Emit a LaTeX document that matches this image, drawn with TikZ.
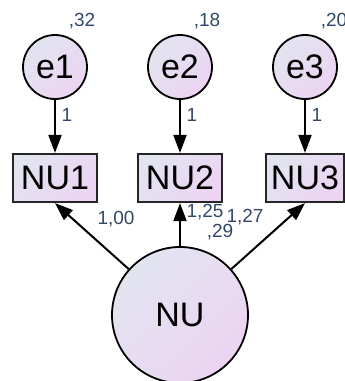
\documentclass[tikz,border=0pt]{standalone}
\usepackage{fontspec}
\setmainfont{Liberation Sans}
\usetikzlibrary{arrows.meta}
\definecolor{fillA}{RGB}{226,228,240}
\definecolor{fillB}{RGB}{236,212,242}
\definecolor{lbl}{RGB}{50,72,104}
\begin{document}
\begin{tikzpicture}[x=1pt,y=-1pt,
  grad/.style={shade, top color=fillA, bottom color=fillB, shading angle=45},
  latent/.style={circle, draw=black, line width=1.8pt, grad, inner sep=0pt, font=\fontsize{34}{34}\selectfont},
  obs/.style={rectangle, draw=black!85, line width=2.2pt, grad, minimum width=84pt, minimum height=48pt, inner sep=0pt, font=\fontsize{34}{34}\selectfont},
  arr/.style={line width=2pt, -{Triangle[length=18pt,width=13pt]}},
  lab/.style={text=lbl, inner sep=0pt, font=\fontsize{19}{19}\selectfont}
]
\useasboundingbox (0,0) rectangle (345,381);
\node[latent, minimum size=64pt] (e1) at (55,67) {e1};
\node[latent, minimum size=64pt] (e2) at (180,67) {e2};
\node[latent, minimum size=64pt] (e3) at (305,67) {e3};
\node[obs] (NU1) at (55,178) {NU1};
\node[obs] (NU2) at (180,178) {NU2};
\node[obs, minimum width=78pt] (NU3) at (305,178) {NU3};
\node[latent, minimum size=136pt] (NU) at (180,315) {NU};
\draw[arr] (e1) -- (NU1);
\draw[arr] (e2) -- (NU2);
\draw[arr] (e3) -- (NU3);
\draw[arr] (NU) -- (NU1.south);
\draw[arr] (NU) -- (NU2.south);
\draw[arr] (NU) -- (NU3.south);
\node[lab] (v1) at (82,21) {,32};
\node[lab] (v2) at (207,21) {,18};
\node[lab] (v3) at (334,21) {,20};
\node[lab] (w1) at (67,115) {1};
\node[lab] (w2) at (192,115) {1};
\node[lab] (w3) at (317,115) {1};
\node[lab] (l1) at (116,219) {1,00};
\node[lab] (l2) at (205,212) {1,25};
\node[lab] (l3) at (220,232) {,29};
\node[lab] (l4) at (245,217) {1,27};
\end{tikzpicture}
\end{document}
